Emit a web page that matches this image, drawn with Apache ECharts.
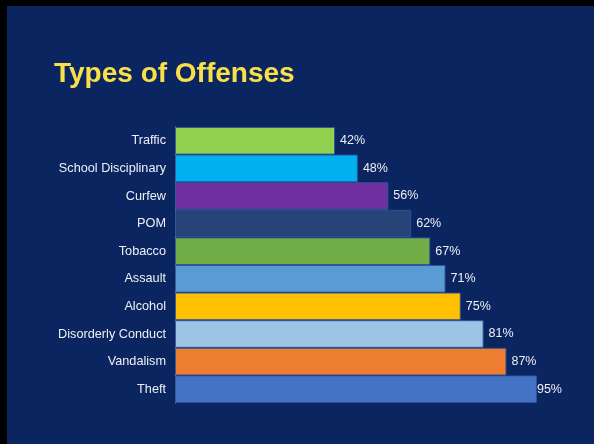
<!DOCTYPE html>
<html>
<head>
<meta charset="utf-8">
<script src="https://cdn.jsdelivr.net/npm/echarts@6/dist/echarts.min.js"></script>
<style>
  html, body { margin: 0; padding: 0; background: #000; }
  #chart { position: absolute; left: 7px; top: 6px; width: 587px; height: 438px; background: #0b2560; }
</style>
</head>
<body>
<div id="chart"></div>
<script>
const categories = ['Traffic', 'School Disciplinary', 'Curfew', 'POM', 'Tobacco', 'Assault', 'Alcohol', 'Disorderly Conduct', 'Vandalism', 'Theft'];
const values = [42, 48, 56, 62, 67, 71, 75, 81, 87, 95];
const colors = ['#92d050', '#00b0f0', '#7030a0', '#264478', '#70ad47', '#5b9bd5', '#ffc000', '#9dc3e6', '#ed7d31', '#4472c4'];
const labelDistances = [5, 5, 5, 5, 5, 5, 5, 5, 5, 0];

const chart = echarts.init(document.getElementById('chart'));
chart.setOption({
  backgroundColor: '#0b2560',
  animation: false,
  title: {
    text: 'Types of Offenses',
    left: 47,
    top: 54,
    padding: 0,
    textStyle: { color: '#f9e04b', fontSize: 28, fontWeight: 'bold', fontFamily: 'Liberation Sans, Arial, sans-serif' }
  },
  grid: { left: 168, top: 121, bottom: 41, right: 38, containLabel: false },
  xAxis: {
    type: 'value', min: 0, max: 100,
    show: false
  },
  yAxis: {
    type: 'category',
    data: categories,
    inverse: true,
    axisLine: { show: true, lineStyle: { color: '#8fa3c6', width: 1 } },
    axisTick: { show: false },
    axisLabel: { color: '#eef0f6', fontSize: 12.7, margin: 9, fontFamily: 'Liberation Sans, Arial, sans-serif' },
    splitLine: { show: false }
  },
  series: [{
    type: 'bar',
    barCategoryGap: 0,
    data: values.map((v, i) => ({
      value: v,
      itemStyle: { color: colors[i], borderColor: 'rgba(47,85,151,0.9)', borderWidth: 1 },
      label: { distance: labelDistances[i] }
    })),
    label: {
      show: true,
      position: 'right',
      formatter: '{c}%',
      color: '#eef0f6',
      fontSize: 12.5,
      fontFamily: 'Liberation Sans, Arial, sans-serif'
    },
    z: 1
  }]
});
</script>
</body>
</html>
